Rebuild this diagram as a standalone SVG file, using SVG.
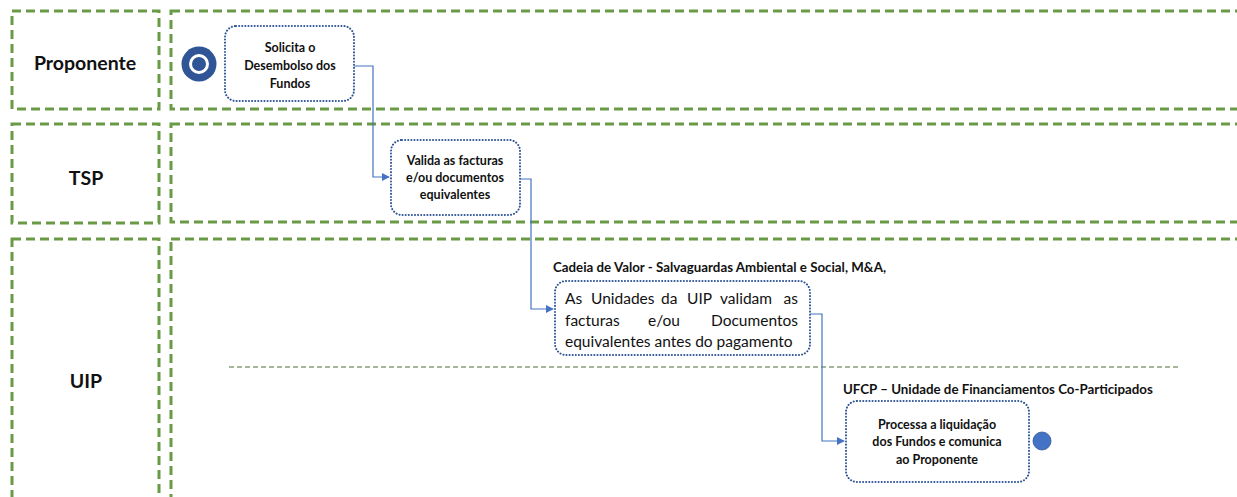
<svg xmlns="http://www.w3.org/2000/svg" width="1237" height="497" viewBox="0 0 1237 497">
<defs>
<style>
.lane{fill:none;stroke:#6b9a47;stroke-width:3;stroke-dasharray:9 5;}
.lbl{font-family:Lato,"Open Sans",sans-serif;font-weight:bold;font-size:19.5px;fill:#111;text-anchor:middle;}
.node{fill:#fff;stroke:#2f5597;stroke-width:2;stroke-dasharray:0.1 3;stroke-linecap:round;}
.nt{font-family:Lato,"Open Sans",sans-serif;font-weight:bold;font-size:12.5px;fill:#111;text-anchor:middle;}
.rt{font-family:Lato,"Open Sans",sans-serif;font-size:15.5px;fill:#111;}
.hd{font-family:Lato,"Open Sans",sans-serif;font-weight:bold;font-size:13.3px;fill:#111;}
.conn{fill:none;stroke:#4472c4;stroke-width:1.2;}
</style>
<marker id="arr" viewBox="0 0 10 10" refX="9" refY="5" markerWidth="8" markerHeight="8" markerUnits="userSpaceOnUse" orient="auto">
<path d="M0,0 L10,5 L0,10 z" fill="#4472c4"/>
</marker>
</defs>
<rect width="1237" height="497" fill="#fff"/>
<g id="lanes">
<rect class="lane" x="12" y="11" width="147" height="98"/>
<rect class="lane" x="171" y="11" width="1080" height="98"/>
<rect class="lane" x="12" y="124" width="147" height="99"/>
<rect class="lane" x="171" y="124" width="1080" height="98"/>
<rect class="lane" x="12" y="239" width="147" height="270"/>
<rect class="lane" x="171" y="239" width="1080" height="270"/>
<text class="lbl" x="85" y="70">Proponente</text>
<text class="lbl" x="86" y="185">TSP</text>
<text class="lbl" x="86" y="388">UIP</text>
<line x1="229" y1="367" x2="1178" y2="367" stroke="#4e6e35" stroke-width="1" stroke-dasharray="5 3"/>
</g>
<g id="start">
<circle cx="199" cy="64" r="17.5" fill="#2f5597"/>
<circle cx="199" cy="64" r="8.5" fill="none" stroke="#fff" stroke-width="3"/>
</g>
<g id="connectors">
<path class="conn" d="M354,66 H373 V177 H389" marker-end="url(#arr)"/>
<path class="conn" d="M520,179 H531 V309 H553" marker-end="url(#arr)"/>
<path class="conn" d="M810,314 H822 V441 H844" marker-end="url(#arr)"/>
</g>
<g id="n1">
<rect class="node" x="225" y="26" width="129" height="75" rx="11"/>
<text class="nt" x="290" y="52">Solicita o</text>
<text class="nt" x="290" y="70">Desembolso dos</text>
<text class="nt" x="290" y="88">Fundos</text>
</g>
<g id="n2">
<rect class="node" x="391" y="140" width="129" height="75" rx="11"/>
<text class="nt" x="455" y="165">Valida as facturas</text>
<text class="nt" x="455" y="182">e/ou documentos</text>
<text class="nt" x="455" y="199">equivalentes</text>
</g>
<g id="n3">
<text class="hd" x="553" y="272">Cadeia de Valor - Salvaguardas Ambiental e Social, M&amp;A,</text>
<rect class="node" x="555" y="281" width="255" height="74" rx="11"/>
<text class="rt" y="304"><tspan x="565">As</tspan><tspan x="591">Unidades</tspan><tspan x="661">da</tspan><tspan x="687">UIP</tspan><tspan x="720">validam</tspan><tspan x="798" text-anchor="end">as</tspan></text>
<text class="rt" y="326"><tspan x="565">facturas</tspan><tspan x="648">e/ou</tspan><tspan x="798" text-anchor="end">Documentos</tspan></text>
<text class="rt" x="565" y="347">equivalentes antes do pagamento</text>
</g>
<g id="n4">
<text class="hd" x="843" y="394">UFCP – Unidade de Financiamentos Co-Participados</text>
<rect class="node" x="846" y="401" width="183" height="81" rx="11"/>
<text class="nt" x="937" y="429">Processa a liquidação</text>
<text class="nt" x="937" y="446">dos Fundos e comunica</text>
<text class="nt" x="937" y="464">ao Proponente</text>
</g>
<g id="end">
<circle cx="1042" cy="441" r="9" fill="#4472c4" stroke="#2f5597" stroke-width="0.8"/>
</g>
</svg>
